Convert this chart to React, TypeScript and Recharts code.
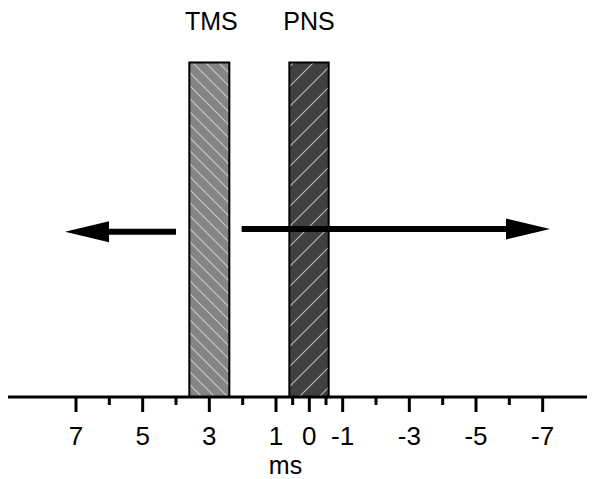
import { ComposedChart, XAxis, YAxis, ReferenceArea, ReferenceLine, Label } from "recharts";

// stimulus bands (ms, axis runs from positive on the left to negative on the right)
const bandNames = ["TMS", "PNS"];
const bandFrom = [2.4, -0.58];
const bandTo = [3.6, 0.6];
const bandTop = 86;

// arrows: start, tip, height
const arrowFrom = [4.0, 2.03];
const arrowTo = [7.33, -7.22];
const arrowLevel = [42.5, 43.2];

const majorTicks = [7, 5, 3, 1, 0, -1, -3, -5, -7];
const minorTicks = [6, 4, 2, 0.5, -0.5, -2, -4, -6, -8.5];

const FONT = "'Liberation Sans', Arial, sans-serif";
const fills = ["url(#hatchTms)", "url(#hatchPns)"];

const Tick = (props: any) => {
  const { x, y, payload } = props;
  const v = payload.value;
  const major = majorTicks.includes(v);
  return (
    <g>
      <line x1={x} y1={y} x2={x} y2={y + (major ? 15 : 8)} stroke="#000" strokeWidth={3} />
      {major && (
        <text x={x} y={y + 48} textAnchor="middle" fontSize={26} fontFamily={FONT} fill="#000">
          {String(v)}
        </text>
      )}
    </g>
  );
};

const Arrow = (p: any) => {
  const { x1, y1, x2, y2 } = p;
  const dir = Math.sign(x2 - x1);
  const bx = x2 - dir * 44;
  return (
    <g>
      <line x1={x1} y1={y1} x2={bx} y2={y2} stroke="#000" strokeWidth={6} />
      <path d={`M${x2},${y2} L${bx},${y2 - 10.5} L${bx},${y2 + 10.5} Z`} fill="#000" />
    </g>
  );
};

export default function App() {
  return (
    <ComposedChart width={587} height={471} margin={{ top: 0, right: 0, bottom: 0, left: 0 }}>
      <defs>
        <pattern id="hatchTms" patternUnits="userSpaceOnUse" width={13} height={13}>
          <rect width={13} height={13} fill="#858585" />
          <path d="M-1,-1 L14,14 M12,-1 L14,1 M-1,12 L1,14" stroke="#c8c8c8" strokeWidth={1.2} />
        </pattern>
        <pattern id="hatchPns" patternUnits="userSpaceOnUse" width={20} height={20}>
          <rect width={20} height={20} fill="#404040" />
          <path d="M-1,21 L21,-1 M-1,1 L1,-1 M19,21 L21,19" stroke="#b4b4b4" strokeWidth={1.2} />
        </pattern>
      </defs>
      <XAxis
        type="number"
        dataKey="x"
        domain={[-8.57, 9.04]}
        allowDataOverflow
        reversed
        ticks={[...majorTicks, ...minorTicks]}
        interval={0}
        tickLine={false}
        tickSize={0}
        tickMargin={0}
        tick={<Tick />}
        axisLine={{ stroke: "#000", strokeWidth: 3 }}
        height={82}
      >
        <Label
          value="ms"
          position="insideBottom"
          offset={5.3}
          dx={-16}
          fontSize={25}
          fontFamily={FONT}
          fill="#000"
        />
      </XAxis>
      <YAxis type="number" domain={[0, 100]} allowDataOverflow hide />
      {bandNames.map((name, i) => (
        <ReferenceArea
          key={name}
          x1={bandFrom[i]}
          x2={bandTo[i]}
          y1={0}
          y2={bandTop}
          fill={fills[i]}
          fillOpacity={1}
          stroke="#000"
          strokeWidth={2}
          label={{ value: name, position: "top", offset: 32, fontSize: 25, fontFamily: FONT, fill: "#000", dx: i === 0 ? 2 : 0 }}
        />
      ))}
      {arrowFrom.map((a, i) => (
        <ReferenceLine
          key={i}
          segment={[
            { x: a, y: arrowLevel[i] },
            { x: arrowTo[i], y: arrowLevel[i] },
          ]}
          shape={<Arrow />}
        />
      ))}
    </ComposedChart>
  );
}
